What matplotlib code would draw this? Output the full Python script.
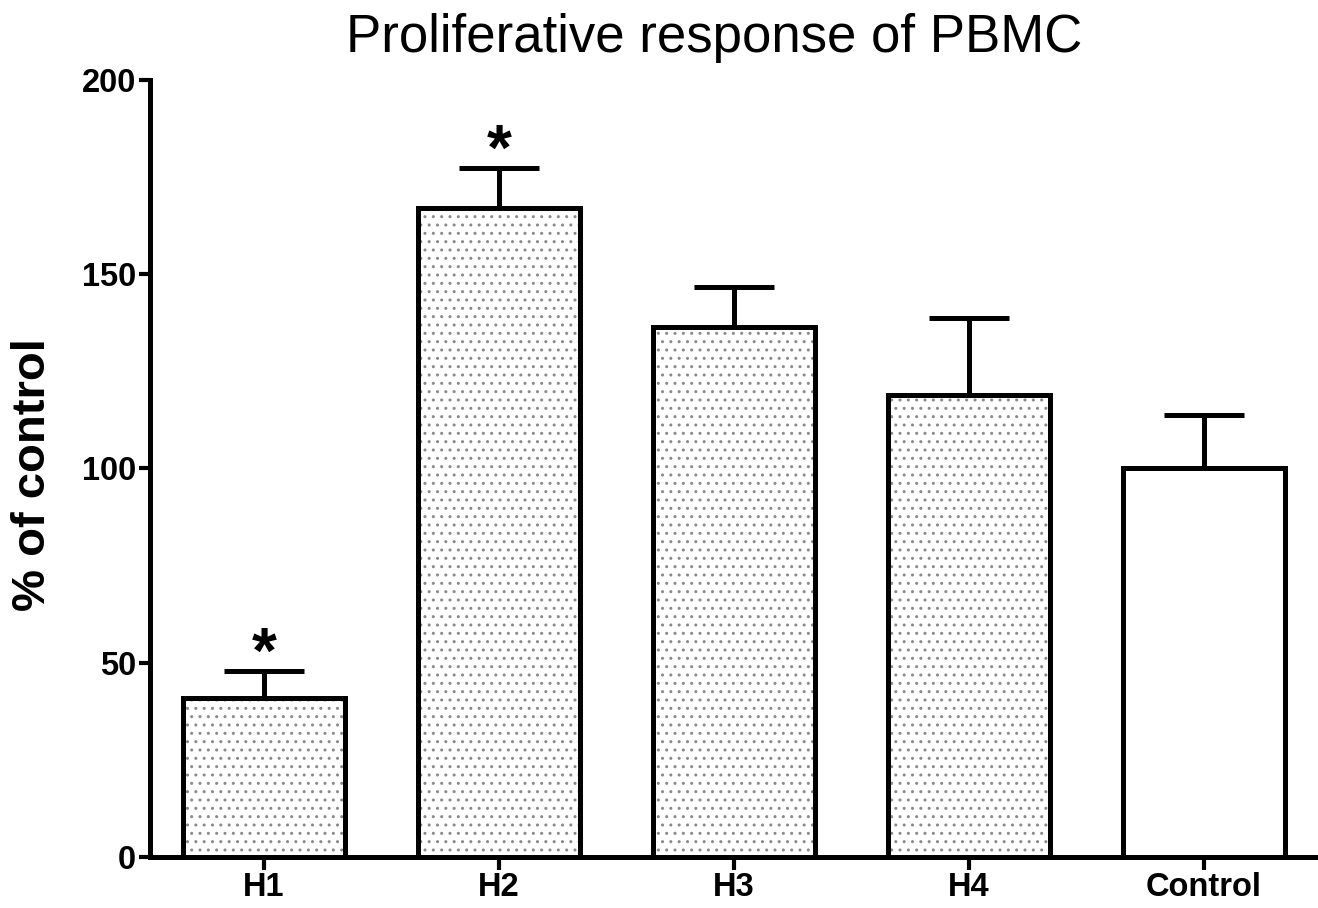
import numpy as np
import matplotlib
matplotlib.use("Agg")
import matplotlib.pyplot as plt

# values
groups = ["H1", "H2", "H3", "H4", "Control"]
means = [40.8, 167.0, 136.5, 119.0, 100.0]
sem = [7.0, 10.3, 10.3, 19.8, 13.8]
dotted = [True, True, True, True, False]
starred = [True, True, False, False, False]
yticks = [0, 50, 100, 150, 200]

plt.rcParams['font.family'] = ['Liberation Sans', 'DejaVu Sans']
plt.rcParams['hatch.linewidth'] = 1.0
plt.rcParams['hatch.color'] = '#8a8a8a'

fig = plt.figure(figsize=(13.18, 9.08), dpi=100)
ax = fig.add_axes([0.1138, 0.0562, 0.8862, 0.8558])

x = np.arange(len(groups))
w = 0.69

# dotted fill first, then the black outlines on top
for xi, m, d in zip(x, means, dotted):
    if d:
        ax.bar(xi, m, width=w, color='white', hatch='..', edgecolor='#8a8a8a',
               linewidth=0, zorder=2)
ax.bar(x, means, width=w, facecolor='none', edgecolor='black', linewidth=3.6,
       zorder=3)

# upper error bars only
ax.errorbar(x, means, yerr=[np.zeros(len(sem)), sem], fmt='none', ecolor='black',
            elinewidth=3.6, capsize=29, capthick=3.6, zorder=1)

for xi, m, s, st in zip(x, means, sem, starred):
    if st:
        ax.annotate('*', (xi, m + s), xytext=(0, -1), textcoords='offset points',
                    ha='center', va='baseline', fontsize=46, fontweight='bold')

ax.set_xlim(-0.485, 4.485)
ax.set_ylim(0, 200)
ax.set_yticks(yticks)
ax.set_xticks(x)
ax.set_xticklabels(groups)
for lbl in ax.get_xticklabels() + ax.get_yticklabels():
    lbl.set_fontsize(23.5)
    lbl.set_fontweight('bold')

ax.spines['top'].set_visible(False)
ax.spines['right'].set_visible(False)
ax.spines['left'].set_linewidth(3.6)
ax.spines['bottom'].set_linewidth(3.6)
ax.tick_params(axis='y', direction='out', length=8, width=3, pad=2)
ax.tick_params(axis='x', direction='out', length=9, width=3, pad=2)

fig.text(0.025, 0.477, '% of control', rotation=90, ha='center', va='center',
         fontsize=34, fontweight='bold')
fig.text(0.5417, 0.958, 'Proliferative response of PBMC', ha='center',
         va='center', fontsize=38)

fig.savefig('out.png', dpi=100)
